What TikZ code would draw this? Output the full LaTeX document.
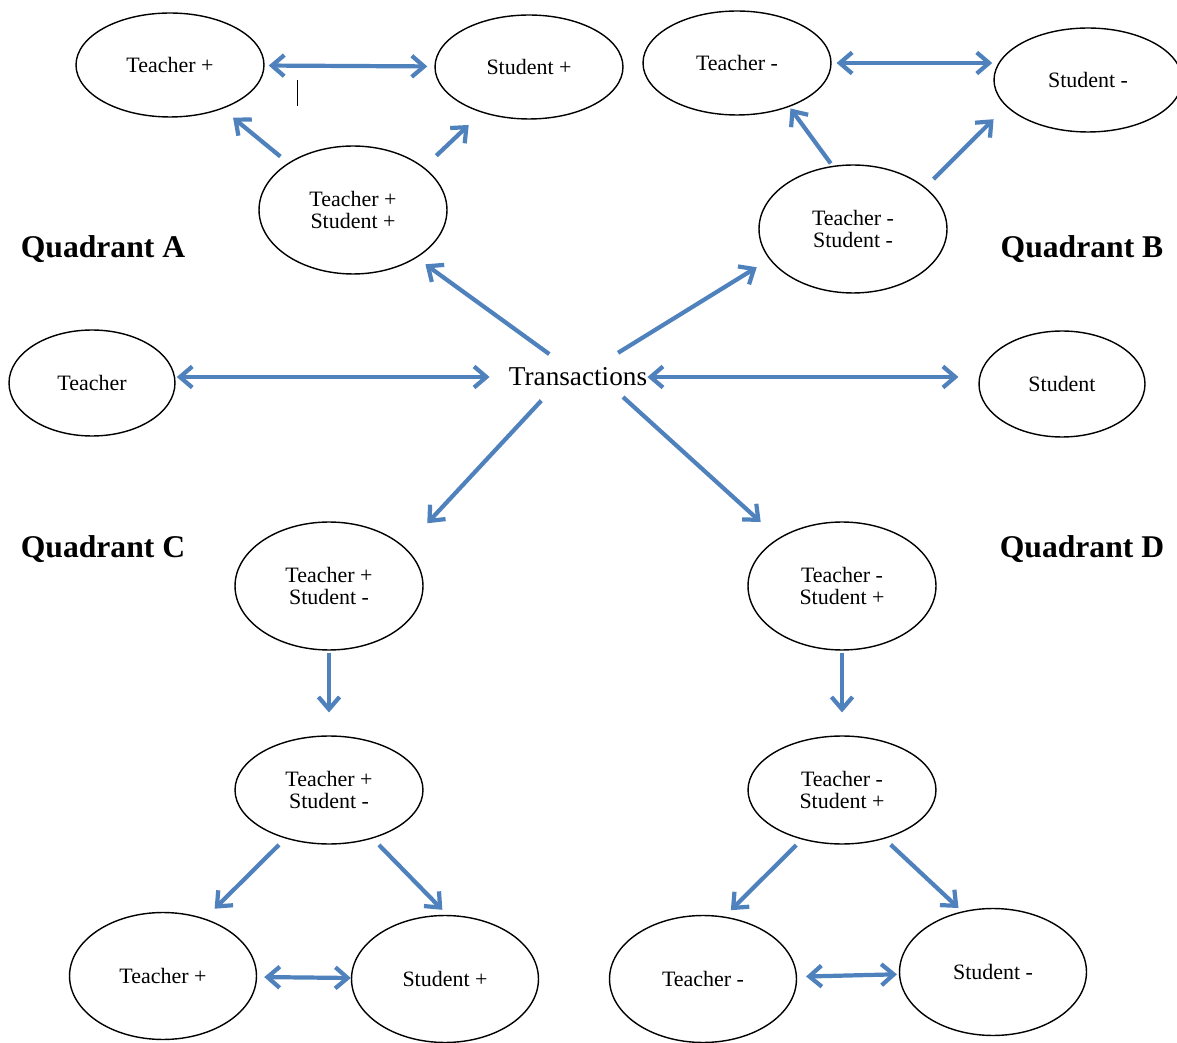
\documentclass[tikz,border=0pt]{standalone}
\usepackage{fontspec}
\setmainfont{Liberation Serif}
\usetikzlibrary{shapes.geometric,arrows.meta}
\definecolor{linkblue}{RGB}{79,129,189}
\begin{document}
\begin{tikzpicture}[x=0.02cm, y=-0.02cm,
          >={Straight Barb[length=7pt,width=12pt]},
          oval/.style={ellipse, draw, line width=0.8pt, inner sep=0pt, align=center,
            minimum width=3.76cm, minimum height=2.08cm, font=\fontsize{12.5}{12.5}\selectfont},
          big oval/.style={oval, minimum height=2.56cm},
          mid oval/.style={oval, minimum height=2.16cm},
          low oval/.style={oval, minimum width=3.74cm, minimum height=2.54cm},
          side oval/.style={oval, minimum width=3.32cm, minimum height=2.12cm},
          link/.style={draw=linkblue, line width=2.4pt},
          quad/.style={font=\bfseries\fontsize{18}{20}\selectfont}]
          \useasboundingbox (0,0) rectangle (1177,1043);
          \node[oval] (tp) at (170,65) {Teacher +};
          \node[oval] (sp) at (529,67) {Student +};
          \node[oval] (tm) at (737,63) {Teacher -};
          \node[oval] (sm) at (1088,80) {Student -};
          \node[big oval] (tsA) at (353,210) {Teacher +\\Student +};
          \node[big oval] (tsB) at (853,229) {Teacher -\\Student -};
          \node[side oval] (teacher) at (92,383) {Teacher};
          \node[side oval] (student) at (1062,384) {Student};
          \node[font=\fontsize{15.5}{18}\selectfont, inner xsep=0pt, inner ysep=6pt] (trans) at (578,377) {Transactions};
          \node[big oval] (tsC1) at (329,586) {Teacher +\\Student -};
          \node[big oval] (tsD1) at (842,586) {Teacher -\\Student +};
          \node[mid oval] (tsC2) at (329,790) {Teacher +\\Student -};
          \node[mid oval] (tsD2) at (842,790) {Teacher -\\Student +};
          \node[low oval] (tpC) at (163,976) {Teacher +};
          \node[low oval] (spC) at (445,979) {Student +};
          \node[low oval] (tmD) at (703,979) {Teacher -};
          \node[low oval] (smD) at (993,972) {Student -};
          \foreach \q/\x/\y in {A/103/249, B/1082/249, C/103/549, D/1082/549}{
              \node[quad] (quad\q) at (\x,\y) {Quadrant \q};
          }
          \foreach \a/\b/\s/\e in {tsA.144/tp.-40/5.7/7.9, tsA.31/sp.224/9.6/10.2,
              trans.141/tsA.-37/2.8/6.2, tsB.108/tm.-40/1.7/1.1, tsB.30/sm.198/6.6/10.2,
              trans.31/tsB.200/4.5/8.5, trans.211/tsC1.27/2.8/18.7, trans.-24/tsD1.143/0/13.6,
              tsC1/tsC2/1.1/13, tsD1/tsD2/1.1/13, tsC2.228/tpC.54/5.1/7.9,
              tsC2.-48/spC.88/5.1/4, tsD2.231/tmD.71/4.5/5.1, tsD2.-49/smD.117/4.8/2.8}{
              \draw[link, ->, shorten <=\s pt, shorten >=\e pt] (\a) -- (\b);
          }
          \foreach \a/\b/\s/\e in {tp/sp/2.3/4, tpC/spC/4/0, tmD/smD/5.1/1.1}{
              \draw[link, <->, shorten <=\s pt, shorten >=\e pt] (\a) -- (\b);
          }
          \draw[link, <->, shorten <=2.8pt, shorten >=0.6pt] (tm.east) -- (tm.east -| sm.west);
          \draw[link, <->, shorten <=0.6pt, shorten >=10.8pt] (trans.west -| teacher.east) -- (trans.west);
          \draw[link, <->, shorten >=11.3pt] (trans.east) -- (trans.east -| student.west);
          \coordinate (caret) at (297,80);
          \draw[line width=0.5pt] (caret) -- ++(0,26);
      \end{tikzpicture}
\end{document}
